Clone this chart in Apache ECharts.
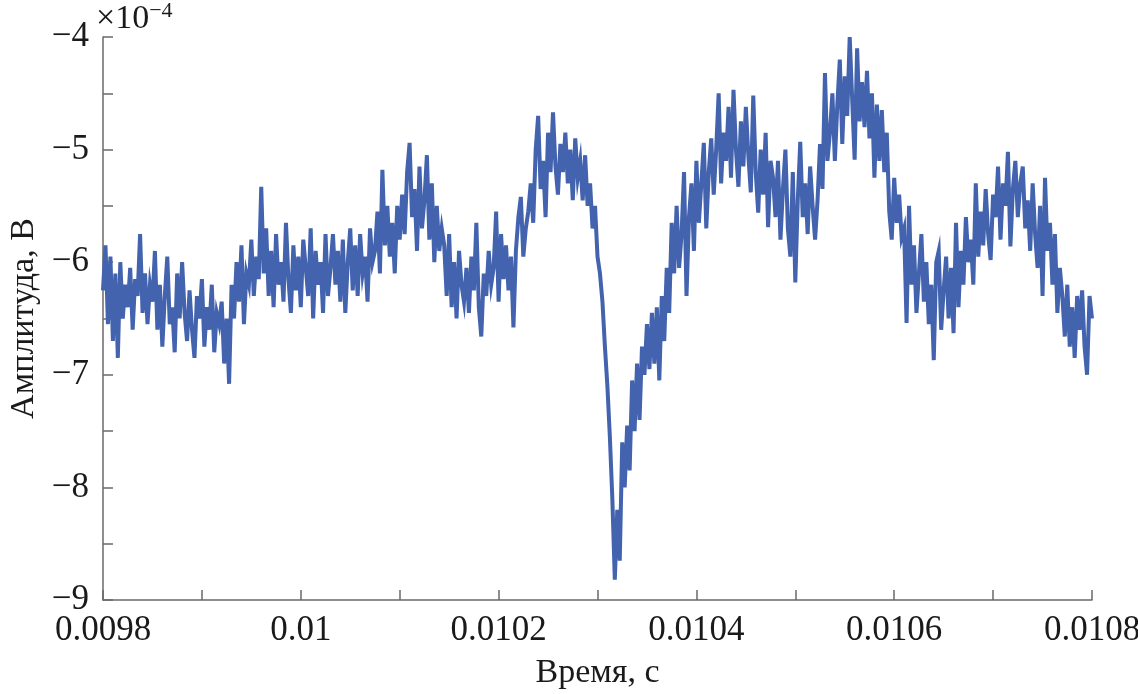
<!DOCTYPE html>
<html>
<head>
<meta charset="utf-8">
<script src="https://cdn.jsdelivr.net/npm/echarts@6/dist/echarts.min.js"></script>
<style>
  html, body { margin: 0; padding: 0; background: #fff; }
  #chart { width: 1138px; height: 694px; }
</style>
</head>
<body>
<div id="chart"></div>
<script>
// sample clock: first sample and spacing, seconds
const t0 = 0.0098;
const dt = 0.0000025;

// amplitude, in units of 1e-4 V (401 samples)
const amplitude = [
  -6.25,-5.85,-6.55,-5.95,-6.7,-6.1,-6.85,-6.0,-6.5,-6.2,-6.4,-6.05,-6.6,-6.15,-6.3,-5.75,-6.45,-6.1,-6.55,-6.2,
  -6.35,-5.9,-6.6,-6.2,-6.75,-6.3,-5.95,-6.55,-6.4,-6.8,-6.1,-6.5,-6.0,-6.45,-6.7,-6.25,-6.6,-6.85,-6.3,-6.5,
  -6.15,-6.75,-6.4,-6.6,-6.2,-6.8,-6.45,-6.55,-6.35,-6.9,-6.5,-7.08,-6.2,
  -6.5,-6.0,-6.35,-5.85,-6.55,-6.1,-6.2,-5.8,-6.3,-5.95,-6.15,
  -5.33,-6.1,-5.7,-6.3,-5.9,-6.4,-5.75,-6.2,-6.0,-6.35,-5.65,-6.15,-6.45,-5.85,-6.25,-5.95,-6.4,-5.8,-6.05,-6.3,
  -5.7,-6.5,-5.9,-6.2,-6.0,-6.45,-5.75,-6.3,-6.05,
  -5.75,-6.2,-5.9,-6.35,-5.8,-6.45,-6.0,-5.7,-6.25,-5.85,-6.3,-5.75,-6.1,-5.95,-6.35,-5.7,-6.0,-5.9,-5.55,-6.1,
  -5.18,-5.85,-5.5,-5.95,-5.65,-6.1,-5.5,-5.8,
  -5.4,-5.75,-5.2,-4.94,-5.6,-5.35,-5.9,-5.15,-5.7,-5.45,-5.05,-5.8,-5.3,-6.0,-5.5,-5.9,-5.7,
  -5.85,-6.3,-5.75,-6.4,-6.0,-6.5,-5.9,-6.2,-6.35,-6.05,-6.45,-5.95,-6.25,-5.65,-6.4,-6.66,-6.1,-6.3,-5.9,-6.2,
  -6.05,-5.55,-6.35,
  -5.75,-6.15,-5.85,-6.25,-5.95,-6.58,-5.9,-5.6,-5.42,-5.95,-5.7,-5.55,
  -5.3,-5.65,-5.0,-4.7,-5.35,-5.1,-5.6,-4.85,-5.2,-4.67,-5.15,-5.4,-4.95,-5.2,-4.85,-5.3,-5.0,-5.45,-4.9,-5.25,
  -5.1,-5.45,-5.05,-5.5,-5.3,-5.7,-5.5,-5.95,-6.1,
  -6.35,-6.75,-7.1,-7.55,-8.1,-8.82,
  -8.2,-8.65,-7.6,-8.0,-7.45,-7.85,-7.05,-7.5,-6.9,-7.4,-6.75,-7.0,-6.55,-6.95,
  -6.45,-6.9,-6.4,-7.05,-6.3,-6.7,-6.05,-6.45,-5.65,-6.1,-5.5,-6.05,-5.75,-5.2,-6.3,-5.6,-5.3,-5.9,-5.1,-5.65,
  -5.3,-4.94,-5.7,-5.2,-4.9,-5.4,-5.0,
  -4.5,-5.3,-4.85,-5.1,-4.62,-5.25,-4.47,-5.0,-5.33,-4.75,-5.15,-4.62,-5.05,-5.38,-4.52,-5.2,-5.56,-5.0,-5.4,-4.85,
  -5.69,-5.1,
  -5.25,-5.6,-5.1,-5.8,-5.35,-5.0,-5.7,-5.95,-5.2,-6.18,-5.45,-4.93,-5.6,-5.3,-5.75,-5.15,-5.5,-5.8,-5.45,-4.95,
  -5.35,-4.32,-5.1,-4.85,
  -4.5,-5.1,-4.6,-4.2,-4.95,-4.35,-4.7,-4.0,-4.55,-5.09,-4.1,-4.75,-4.4,-4.8,-4.3,-4.9,-4.5,-5.25,-4.6,-5.1,
  -4.65,
  -5.2,-4.85,-5.55,-5.8,-5.25,-5.65,-5.4,-5.78,-5.7,-6.54,-5.5,-6.2,
  -5.85,-6.45,-6.1,-5.75,-6.35,-6.0,-6.55,-6.2,-6.87,-6.0,-5.9,-6.6,-6.25,-5.95,-6.5,-6.05,-6.63,-5.65,-6.4,-5.9,
  -6.2,-5.6,-6.0,-5.8,-6.2,-5.3,-5.95,-5.55,-5.85,-5.35,-5.75,-5.98,-5.4,-5.6,-5.15,-5.8,-5.3,-5.5,-5.02,-5.86,
  -5.35,-5.1,-5.6,-5.3,
  -5.15,-5.7,-5.45,-5.9,-5.3,-5.75,-6.05,-5.5,-6.3,-5.25,-5.9,-5.65,-6.2,-5.75,-6.45,-6.05,-6.3,
  -6.66,-6.2,-6.75,-6.4,-6.85,-6.3,-6.6,-6.25,-6.75,-7.0,-6.3,-6.5
];

const xTicks = { min: 0.0098, max: 0.0108, step: 0.0002 };
const yTicks = { min: -9, max: -4, step: 1 };

const points = amplitude.map((v, i) => [t0 + i * dt, v]);

const font = 'Liberation Serif';
const axisColor = '#6a6a6a';
const textColor = '#1a1a1a';

const chart = echarts.init(document.getElementById('chart'));
chart.setOption({
  animation: false,
  backgroundColor: '#fff',
  textStyle: { fontFamily: font },
  grid: { left: 103, right: 46, top: 37, bottom: 94, containLabel: false, outerBoundsMode: 'none' },
  graphic: [{
    type: 'text',
    left: 96,
    top: 0,
    style: {
      text: '{a|×10}{b|−4}',
      rich: {
        a: { fontFamily: font, fontSize: 34, fill: textColor, verticalAlign: 'bottom' },
        b: { fontFamily: font, fontSize: 22, fill: textColor, verticalAlign: 'top', padding: [0, 0, 14, 0] }
      }
    }
  }],
  xAxis: {
    type: 'value',
    min: xTicks.min,
    max: xTicks.max,
    interval: xTicks.step,
    name: 'Время, с',
    nameLocation: 'middle',
    nameGap: 56,
    nameTextStyle: { fontFamily: font, fontSize: 34, color: textColor },
    axisLine: { lineStyle: { color: axisColor, width: 1.5 } },
    axisTick: { inside: true, length: 10, lineStyle: { color: axisColor, width: 1.5 } },
    minorTick: { show: true, splitNumber: 2, length: 10, lineStyle: { color: axisColor, width: 1.5 } },
    splitLine: { show: false },
    axisLabel: {
      fontFamily: font, fontSize: 35, color: textColor, margin: 13,
      formatter: v => String(parseFloat(v.toFixed(4)))
    }
  },
  yAxis: {
    type: 'value',
    min: yTicks.min,
    max: yTicks.max,
    interval: yTicks.step,
    name: 'Амплитуда, В',
    nameLocation: 'middle',
    nameGap: 62,
    nameTextStyle: { fontFamily: font, fontSize: 34, color: textColor },
    axisLine: { lineStyle: { color: axisColor, width: 1.5 } },
    axisTick: { inside: true, length: 10, lineStyle: { color: axisColor, width: 1.5 } },
    minorTick: { show: true, splitNumber: 2, length: 10, lineStyle: { color: axisColor, width: 1.5 } },
    splitLine: { show: false },
    axisLabel: {
      fontFamily: font, fontSize: 35, color: textColor, margin: 14,
      formatter: v => String(v).replace('-', '−')
    }
  },
  series: [{
    type: 'line',
    data: points,
    showSymbol: false,
    symbol: 'none',
    lineStyle: { color: '#4363ae', width: 4, join: 'miter' },
    clip: true
  }]
});
</script>
</body>
</html>
